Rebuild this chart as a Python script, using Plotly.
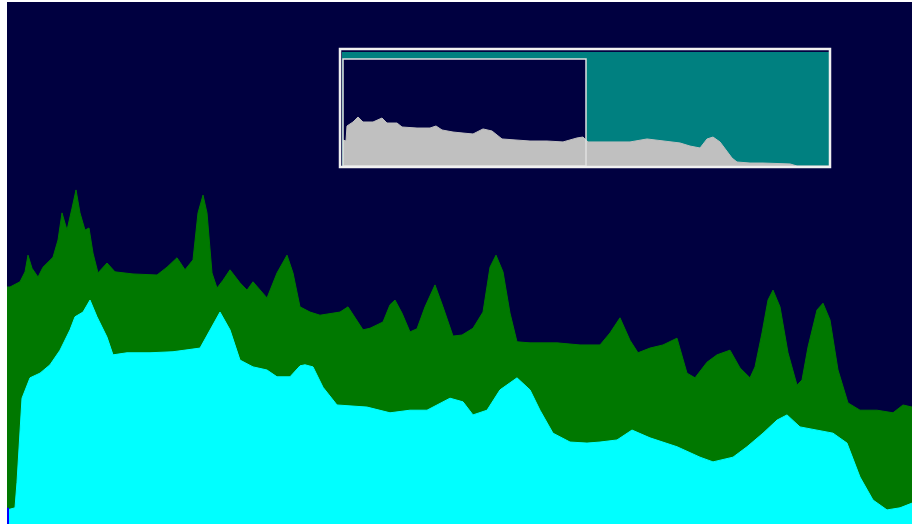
import plotly.graph_objects as go

# ---------------- main chart data (sample index, level 0-100) ----------------
peak_x = [0, 3, 13, 18, 21, 25, 31, 36, 46, 51, 55, 60, 65, 69, 73, 78, 82, 86, 91, 100, 108,
          126, 150, 160, 170, 178, 186, 191, 196, 200, 205, 210, 216, 223, 233, 240, 246, 255,
          260, 270, 280, 286, 293, 303, 313, 333, 341, 356, 363, 376, 383, 388, 395, 403, 410,
          418, 428, 436, 446, 455, 466, 476, 483, 489, 496, 503, 510, 523, 550, 573, 593, 603,
          613, 623, 631, 643, 656, 670, 680, 688, 700, 710, 723, 733, 743, 748, 755, 761, 766,
          773, 781, 790, 795, 801, 810, 816, 823, 831, 841, 853, 870, 886, 896, 905]
peak_v = [45.4, 45.4, 46.4, 48.3, 51.5, 49.0, 47.3, 49.2, 51.1, 54.4, 59.6, 56.3, 60.5, 64.0,
          59.6, 56.3, 56.7, 51.9, 48.1, 50.0, 48.3, 47.9, 47.7, 49.2, 51.0, 48.7, 50.6, 59.6,
          63.0, 59.6, 48.1, 45.2, 46.7, 48.7, 46.2, 44.8, 46.4, 44.3, 43.3, 48.1, 51.5, 48.1,
          41.6, 40.6, 40.0, 40.6, 41.6, 37.2, 37.5, 38.7, 42.0, 42.9, 40.4, 36.8, 37.4, 41.6,
          45.8, 41.6, 36.0, 36.2, 37.5, 40.6, 49.2, 51.5, 48.3, 40.4, 34.9, 34.7, 34.7, 34.3,
          34.3, 36.6, 39.5, 35.2, 32.8, 33.7, 34.3, 35.6, 28.9, 28.0, 31.0, 32.4, 33.3, 29.9,
          28.0, 30.1, 36.6, 42.9, 44.8, 41.6, 32.8, 26.6, 27.6, 33.9, 41.0, 42.3, 39.1, 29.5,
          23.2, 21.8, 21.8, 21.3, 22.8, 22.4]

avg_x = [0, 8, 10, 15, 23, 33, 43, 53, 63, 68, 76, 83, 90, 100, 106, 120, 143, 166, 193, 203,
         213, 223, 233, 246, 260, 270, 283, 293, 298, 306, 316, 330, 360, 383, 403, 420, 443,
         456, 466, 480, 493, 510, 523, 533, 546, 563, 580, 593, 610, 625, 643, 670, 693, 706,
         726, 740, 756, 770, 780, 793, 810, 826, 840, 853, 866, 880, 893, 905]
avg_v = [2.7, 3.1, 8.0, 24.1, 28.0, 28.9, 30.5, 33.3, 37.2, 39.7, 40.6, 42.9, 39.7, 35.8, 32.4,
         32.8, 32.8, 33.0, 33.7, 37.2, 40.6, 37.2, 31.4, 30.1, 29.5, 28.2, 28.2, 30.3, 30.5,
         30.1, 26.2, 22.8, 22.4, 21.3, 21.8, 21.8, 24.1, 23.4, 20.9, 21.8, 25.7, 28.0, 25.7,
         21.8, 17.4, 15.7, 15.5, 15.7, 16.1, 18.0, 16.5, 14.8, 12.8, 11.9, 12.8, 14.8, 17.4,
         19.9, 20.9, 18.6, 18.0, 17.4, 15.5, 9.0, 4.6, 2.7, 3.1, 4.0]

min_x = [0, 2, 905]
min_v = [3.1, 0.0, 0.0]

# ---------------- overview data (sample index, level 0-100) ----------------
ov_x = [1, 4, 5, 11, 16, 21, 31, 40, 45, 55, 60, 75, 88, 94, 100, 111, 121, 131, 141, 150,
        160, 171, 188, 205, 221, 235, 241, 246, 265, 288, 305, 321, 338, 348, 358, 365, 371,
        378, 385, 390, 395, 408, 421, 448, 455, 487]
ov_v = [22.8, 21.9, 35.1, 38.6, 43.0, 38.6, 38.6, 42.1, 37.7, 37.7, 34.2, 33.3, 33.3, 35.1,
        31.6, 29.8, 28.9, 28.1, 32.5, 30.7, 23.7, 22.8, 21.9, 21.9, 21.1, 24.6, 25.4, 21.1,
        21.1, 21.1, 23.7, 21.9, 20.2, 17.5, 15.8, 23.7, 25.4, 21.1, 12.3, 7.0, 3.5, 2.6, 2.6,
        1.8, 0.0, 0.0]
sel_start, sel_end, sel_top = 1, 244, 93.9

NAVY = "#000040"
GREEN = "#007800"
CYAN = "#00FFFF"
BLUE = "#0000FF"
TEAL = "#008080"
GRAY = "#C0C0C0"

fig = go.Figure()
fig.add_trace(go.Scatter(x=peak_x, y=peak_v, mode="lines", fill="tozeroy",
                         line=dict(color=GREEN, width=1), fillcolor=GREEN, hoverinfo="skip"))
fig.add_trace(go.Scatter(x=avg_x, y=avg_v, mode="lines", fill="tozeroy",
                         line=dict(color=CYAN, width=1), fillcolor=CYAN, hoverinfo="skip"))
fig.add_trace(go.Scatter(x=min_x, y=min_v, mode="lines", fill="tozeroy", line_shape="hv",
                         line=dict(color=BLUE, width=0), fillcolor=BLUE, hoverinfo="skip"))
fig.add_trace(go.Scatter(x=ov_x, y=ov_v, mode="lines", fill="tozeroy", xaxis="x2", yaxis="y2",
                         line=dict(color=GRAY, width=1), fillcolor=GRAY, hoverinfo="skip"))

ax_off = dict(visible=False, showgrid=False, zeroline=False, fixedrange=True)

# paper geometry of the inset
ix0, ix1 = (342 - 7) / 905, (829 - 7) / 905
iy0, iy1 = (524 - 166) / 522, (524 - 52) / 522

fig.update_layout(
    width=912, height=524,
    margin=dict(l=7, r=0, t=2, b=0),
    paper_bgcolor="white", plot_bgcolor=NAVY,
    showlegend=False,
    xaxis=dict(range=[0, 905], domain=[0, 1], **ax_off),
    yaxis=dict(range=[0, 100], domain=[0, 1], **ax_off),
    xaxis2=dict(range=[0, 487], domain=[ix0, ix1], anchor="y2", **ax_off),
    yaxis2=dict(range=[0, 100], domain=[iy0, iy1], anchor="x2", **ax_off),
    shapes=[
        # inset background
        dict(type="rect", xref="x2", yref="y2", layer="between",
             x0=0, x1=487, y0=0, y1=100, fillcolor=TEAL, line=dict(width=0)),
        # selection window fill
        dict(type="rect", xref="x2", yref="y2", layer="between",
             x0=sel_start, x1=sel_end, y0=0, y1=sel_top, fillcolor=NAVY, line=dict(width=0)),
        # selection window border
        dict(type="rect", xref="x2", yref="y2", layer="above",
             x0=sel_start, x1=sel_end, y0=0, y1=sel_top,
             fillcolor="rgba(0,0,0,0)", line=dict(color="#E0E0E0", width=1.5)),
        # inset frame
        dict(type="rect", xref="paper", yref="paper", layer="above",
             x0=(340 - 7) / 905, x1=(830 - 7) / 905, y0=(524 - 167) / 522, y1=(524 - 49) / 522,
             fillcolor="rgba(0,0,0,0)", line=dict(color="#F0F0F0", width=2.5)),
    ],
)

fig.write_html("out.html", config={"displayModeBar": False},
               post_script="document.body.style.margin='0';")
